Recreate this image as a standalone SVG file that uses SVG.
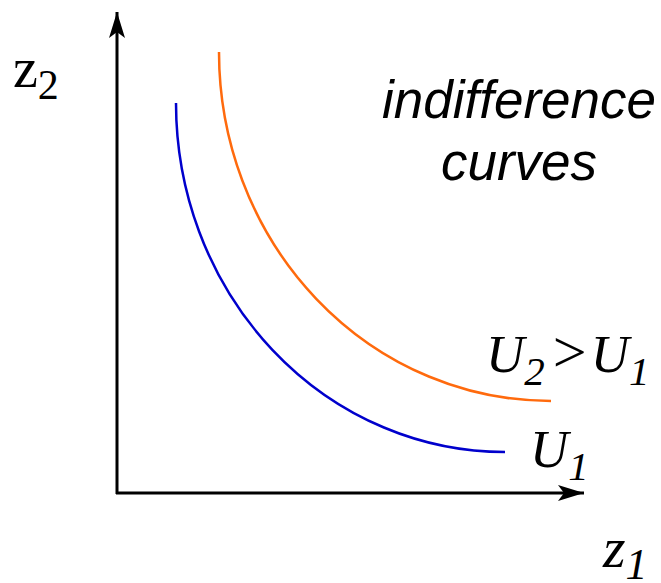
<svg xmlns="http://www.w3.org/2000/svg" width="661" height="583" viewBox="0 0 661 583">
<style>
.axis{stroke:#000;stroke-width:3;fill:none}
.curve{fill:none;stroke-width:2.5}
.serif{font-family:"Liberation Serif","Times New Roman",serif;fill:#000}
.sans{font-family:"Liberation Sans",Arial,sans-serif;font-style:italic;fill:#000}
</style>
<defs>
<marker id="arr" markerUnits="userSpaceOnUse" markerWidth="30" markerHeight="20" refX="26" refY="8" orient="auto" viewBox="0 0 30 16">
<path d="M0,0 L26,8 L0,16 L6,8 Z" fill="#000"/>
</marker>
</defs>
<rect width="661" height="583" fill="#fff"/>
<g id="connectors">
<path class="axis" d="M117,494 V12" marker-end="url(#arr)"/>
<path class="axis" d="M116,493 H584" marker-end="url(#arr)"/>
</g>
<g id="curve-u1">
<path class="curve" stroke="#0000cc" d="M176,103 A329,349 0 0 0 505,452"/>
</g>
<g id="curve-u2">
<path class="curve" stroke="#ff6a0d" d="M219,52 A332,349 0 0 0 551,401"/>
</g>
<g id="label-z2">
<text class="serif" x="13" y="87" font-size="56">z<tspan font-size="42" dy="12">2</tspan></text>
</g>
<g id="label-z1">
<text class="serif" x="603" y="567" font-size="58" font-style="italic">z<tspan font-size="44" dy="12">1</tspan></text>
</g>
<g id="label-title">
<text class="sans" x="519" y="118" font-size="53" text-anchor="middle">indifference</text>
<text class="sans" x="519" y="180" font-size="53" text-anchor="middle">curves</text>
</g>
<g id="label-u2u1">
<text class="serif" x="486" y="372" font-size="53" font-style="italic">U<tspan font-size="41" dy="13">2</tspan><tspan font-style="normal" dy="-13" dx="8" font-size="60">&gt;</tspan><tspan dx="4">U</tspan><tspan font-size="41" dy="13">1</tspan></text>
</g>
<g id="label-u1">
<text class="serif" x="530" y="467" font-size="53" font-style="italic">U<tspan font-size="41" dy="13">1</tspan></text>
</g>
</svg>
